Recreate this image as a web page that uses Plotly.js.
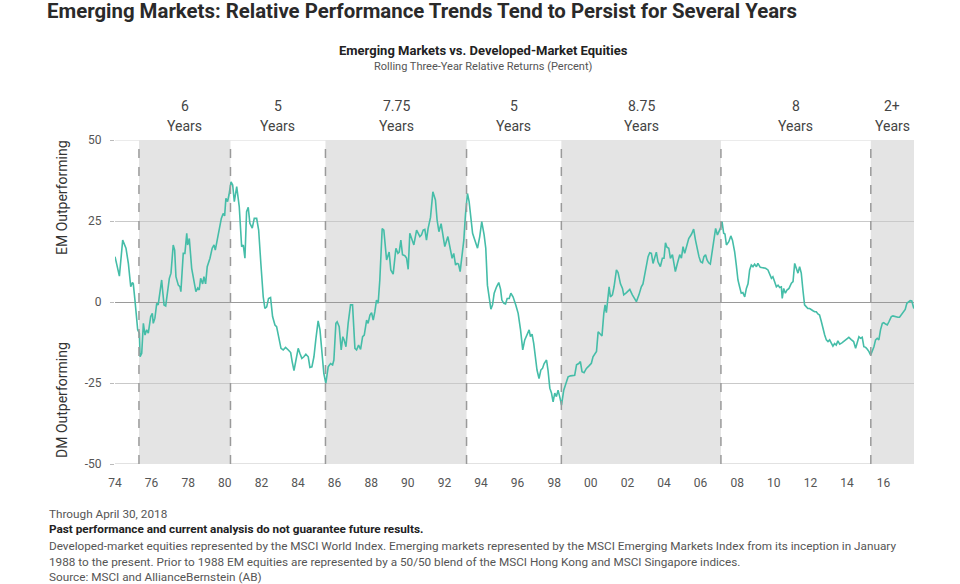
<!DOCTYPE html>
<html>
<head>
<meta charset="utf-8">
<script src="https://cdn.plot.ly/plotly-3.0.1.min.js"></script>
<style>
html,body{margin:0;padding:0;background:#fff;}
#chart{width:960px;height:584px;}
</style>
</head>
<body>
<div id="chart"></div>
<script>
// ---- DATA ----
const years = [
 1974.00,1974.18,1974.24,1974.42,1974.60,1974.73,1974.86,1974.95,1975.00,1975.09,
 1975.24,1975.33,1975.37,1975.46,1975.55,1975.64,1975.73,1975.82,1975.95,1976.04,
 1976.09,1976.18,1976.28,1976.36,1976.46,1976.55,1976.60,1976.68,1976.77,1976.88,
 1976.97,1977.06,1977.18,1977.26,1977.33,1977.46,1977.55,1977.60,1977.73,1977.82,
 1977.92,1977.97,1978.06,1978.19,1978.31,1978.42,1978.52,1978.60,1978.68,1978.79,
 1978.86,1978.95,1979.04,1979.19,1979.31,1979.41,1979.48,1979.59,1979.70,1979.81,
 1979.91,1979.99,1980.06,1980.15,1980.23,1980.34,1980.43,1980.52,1980.65,1980.79,
 1980.92,1981.01,1981.10,1981.19,1981.28,1981.37,1981.50,1981.61,1981.74,1981.85,
 1981.97,1982.10,1982.19,1982.29,1982.39,1982.50,1982.61,1982.74,1982.83,1982.96,
 1983.07,1983.19,1983.32,1983.47,1983.60,1983.68,1983.78,1983.89,1984.01,1984.10,
 1984.21,1984.32,1984.43,1984.56,1984.65,1984.76,1984.87,1984.98,1985.10,1985.20,
 1985.32,1985.41,1985.52,1985.65,1985.78,1985.89,1985.96,1986.07,1986.14,1986.25,
 1986.36,1986.45,1986.52,1986.62,1986.74,1986.87,1986.98,1987.11,1987.20,1987.31,
 1987.42,1987.53,1987.62,1987.75,1987.83,1987.93,1988.02,1988.11,1988.20,1988.29,
 1988.38,1988.47,1988.60,1988.69,1988.84,1988.98,1989.07,1989.20,1989.35,1989.46,
 1989.53,1989.62,1989.71,1989.84,1989.93,1990.02,1990.11,1990.20,1990.33,1990.48,
 1990.56,1990.66,1990.75,1990.84,1990.93,1991.02,1991.11,1991.24,1991.37,1991.51,
 1991.60,1991.70,1991.82,1991.90,1992.02,1992.19,1992.30,1992.42,1992.51,1992.61,
 1992.69,1992.77,1992.86,1992.97,1993.06,1993.15,1993.26,1993.35,1993.43,1993.54,
 1993.66,1993.81,1993.93,1994.04,1994.17,1994.26,1994.35,1994.44,1994.54,1994.63,
 1994.72,1994.85,1994.97,1995.07,1995.14,1995.25,1995.34,1995.43,1995.54,1995.63,
 1995.75,1995.90,1996.03,1996.16,1996.28,1996.39,1996.49,1996.63,1996.70,1996.79,
 1996.88,1996.99,1997.06,1997.17,1997.27,1997.36,1997.45,1997.58,1997.66,1997.76,
 1997.85,1997.94,1998.03,1998.12,1998.21,1998.30,1998.40,1998.52,1998.63,1998.76,
 1998.89,1999.03,1999.12,1999.22,1999.34,1999.43,1999.52,1999.63,1999.76,1999.90,
 2000.03,2000.12,2000.25,2000.31,2000.40,2000.53,2000.61,2000.71,2000.78,2000.85,
 2000.93,2001.00,2001.07,2001.18,2001.27,2001.40,2001.49,2001.62,2001.73,2001.80,
 2001.95,2002.13,2002.27,2002.40,2002.49,2002.63,2002.76,2002.85,2002.95,2003.04,
 2003.13,2003.22,2003.31,2003.40,2003.49,2003.58,2003.67,2003.80,2003.91,2004.00,
 2004.08,2004.16,2004.26,2004.35,2004.46,2004.53,2004.62,2004.73,2004.86,2004.95,
 2005.04,2005.13,2005.22,2005.35,2005.50,2005.62,2005.72,2005.80,2005.91,2006.00,
 2006.10,2006.18,2006.27,2006.35,2006.44,2006.53,2006.62,2006.71,2006.82,2006.92,
 2007.00,2007.08,2007.17,2007.26,2007.33,2007.41,2007.54,2007.65,2007.74,2007.86,
 2007.95,2008.04,2008.13,2008.22,2008.31,2008.41,2008.50,2008.59,2008.68,2008.77,
 2008.86,2008.95,2009.05,2009.13,2009.26,2009.41,2009.55,2009.68,2009.77,2009.87,
 2009.95,2010.05,2010.14,2010.23,2010.32,2010.41,2010.46,2010.54,2010.63,2010.72,
 2010.83,2010.96,2011.05,2011.14,2011.23,2011.32,2011.41,2011.50,2011.59,2011.68,
 2011.78,2011.86,2011.96,2012.05,2012.14,2012.23,2012.32,2012.41,2012.50,2012.60,
 2012.68,2012.78,2012.87,2012.96,2013.05,2013.14,2013.23,2013.32,2013.41,2013.50,
 2013.60,2013.72,2013.87,2013.99,2014.10,2014.23,2014.36,2014.47,2014.56,2014.65,
 2014.74,2014.83,2014.92,2015.02,2015.11,2015.20,2015.29,2015.38,2015.47,2015.56,
 2015.65,2015.74,2015.83,2015.93,2016.01,2016.11,2016.20,2016.29,2016.42,2016.51,
 2016.60,2016.69,2016.78,2016.87,2016.96,2017.05,2017.18,2017.27,2017.36,2017.45,
 2017.54,2017.59,2017.65
];
const relativeReturns = [
 14.0,8.9,8.0,19.1,16.6,11.9,4.7,6.0,5.6,0.6,
 -8.6,-9.6,-16.9,-15.8,-6.6,-10.2,-8.6,-9.6,-4.5,-3.5,
 -6.6,-5.0,-0.4,-0.9,2.7,6.8,3.7,-0.9,-1.2,4.7,
 7.3,8.9,17.6,16.0,7.8,5.2,4.7,3.2,15.0,15.0,
 21.2,17.6,19.6,10.4,6.8,3.2,4.3,3.7,7.3,5.6,
 7.8,5.6,10.9,13.5,16.6,17.6,16.0,19.1,22.2,25.8,
 27.3,26.6,32.0,31.0,33.1,37.1,36.1,31.0,35.6,29.4,
 17.1,17.6,13.5,27.9,29.2,24.3,22.8,25.8,25.8,22.2,
 11.9,1.6,-2.0,-1.5,1.1,1.4,-4.5,-7.1,-7.6,-11.2,
 -14.3,-14.8,-14.0,-14.8,-15.6,-18.4,-21.2,-17.9,-14.3,-15.8,
 -17.4,-16.9,-16.1,-16.9,-20.2,-20.0,-16.9,-11.2,-5.8,-8.6,
 -16.9,-22.0,-25.1,-20.0,-19.0,-19.4,-17.9,-6.6,-6.1,-7.6,
 -14.8,-10.7,-11.7,-13.8,-6.6,-0.9,-0.9,-14.3,-14.8,-13.3,
 -14.6,-10.7,-10.2,-5.6,-6.6,-4.0,-3.3,-5.6,-3.0,0.6,
 -0.4,6.8,22.7,22.2,13.0,15.4,9.9,8.6,16.6,15.0,
 15.4,19.1,14.6,14.3,13.6,10.1,21.2,19.6,17.6,22.2,
 21.2,20.2,20.7,22.2,22.4,19.1,22.7,26.1,34.0,31.5,
 25.3,21.7,24.2,20.7,17.1,20.2,17.1,13.5,15.0,11.4,
 11.9,11.7,9.4,15.0,19.1,26.9,33.5,31.0,26.9,21.2,
 19.1,16.6,20.2,24.8,20.7,16.6,5.2,1.1,-2.2,-0.9,
 2.7,4.7,6.0,3.9,0.6,-0.4,-0.6,1.1,1.1,2.7,
 1.6,-0.9,-3.5,-8.6,-14.8,-11.7,-10.2,-8.6,-10.7,-9.9,
 -12.8,-17.9,-21.0,-23.6,-21.0,-20.5,-19.0,-17.9,-21.0,-26.6,
 -28.1,-30.8,-28.1,-29.2,-27.2,-29.2,-31.8,-27.2,-25.1,-23.1,
 -22.8,-22.8,-22.6,-19.4,-19.0,-18.4,-21.5,-21.8,-20.5,-19.7,
 -18.9,-16.9,-15.8,-15.3,-9.2,-10.2,-10.5,-3.5,-0.9,-3.3,
 1.6,4.7,1.6,2.2,4.7,9.9,9.1,5.6,4.2,2.2,
 2.9,3.9,2.2,0.8,0.1,2.2,4.7,5.6,8.3,10.9,
 14.0,15.2,15.0,11.9,13.5,15.4,12.4,10.9,13.5,13.5,
 18.3,16.9,16.6,13.5,14.6,12.4,9.4,11.9,14.6,13.5,
 17.1,15.0,17.1,19.6,20.9,22.5,19.1,16.6,14.0,12.4,
 12.1,14.0,14.6,13.0,12.1,11.7,15.0,18.1,22.7,20.7,
 21.7,22.7,24.8,21.2,21.0,17.6,18.6,20.4,19.1,15.5,
 11.4,6.8,4.7,2.7,2.9,1.6,4.2,5.6,9.9,11.4,
 10.9,11.7,10.9,11.9,10.7,10.6,10.4,9.9,8.9,7.3,
 7.8,5.8,4.7,5.2,4.5,4.7,1.1,4.2,2.7,3.7,
 4.2,5.8,6.3,11.9,10.4,8.9,10.9,8.9,3.7,-0.9,
 -1.5,-2.0,-2.0,-2.5,-2.7,-3.0,-3.0,-3.7,-4.0,-6.1,
 -8.1,-10.2,-11.7,-12.2,-11.7,-12.8,-13.6,-12.8,-13.3,-12.0,
 -13.0,-12.6,-12.0,-11.6,-10.9,-11.6,-12.2,-14.3,-12.8,-10.7,
 -11.2,-10.9,-13.8,-14.0,-14.6,-15.3,-16.4,-15.3,-13.8,-11.7,
 -11.2,-11.7,-8.6,-6.6,-6.4,-6.8,-7.1,-6.1,-4.5,-4.3,
 -4.5,-4.5,-4.7,-4.7,-4.0,-3.0,-2.3,-0.4,0.1,0.4,
 0.3,-0.9,-2.0
];
// regime boundaries (decimal years) and the length label of each regime
const regimeStarts = [1975.31, 1980.31, 1985.50, 1993.21, 1998.39, 2007.11, 2015.30];
const regimeEnd = 2017.66;
const regimeLengths = ["6", "5", "7.75", "5", "8.75", "8", "2+"];
const xTickVals = [1974,1976,1978,1980,1982,1984,1986,1988,1990,1992,1994,1996,1998,2000,2002,2004,2006,2008,2010,2012,2014,2016];
const xTickText = ["74","76","78","80","82","84","86","88","90","92","94","96","98","00","02","04","06","08","10","12","14","16"];
const yTickVals = [-50,-25,0,25,50];
const yTickText = ["-50","-25","0","25","50"];

// ---- STYLE ----
const FONT = "Roboto, 'Liberation Sans', sans-serif";
const LINE_COLOR = "#45bda8";
const SHADE = "#e4e4e4";

const shapes = [];
const annotations = [];
const bounds = regimeStarts.concat([regimeEnd]);
for (let i = 0; i < regimeStarts.length; i++) {
  if (i % 2 === 0) {
    shapes.push({type:"rect", xref:"x", yref:"y", x0:bounds[i], x1:bounds[i+1], y0:-50, y1:50,
      fillcolor:SHADE, line:{width:0}, layer:"below"});
  }
}
// edge lines at +50 / -50 (plotly hides gridlines on the range edges)
shapes.push({type:"line", xref:"paper", yref:"y", x0:0, x1:1, y0:50, y1:50, line:{color:"#d8d8d8", width:1}, layer:"below"});
shapes.push({type:"line", xref:"paper", yref:"y", x0:0, x1:1, y0:-50, y1:-50, line:{color:"#c4c4c4", width:1}, layer:"below"});
regimeStarts.forEach(function(b){
  shapes.push({type:"line", xref:"x", yref:"y", x0:b, x1:b, y0:-50, y1:50,
    line:{color:"#9a9a9a", width:1.5, dash:"dash"}, layer:"above"});
});
// period labels
const plotTop = 140, plotBottom = 464, plotH = plotBottom - plotTop;
function py(pixelY){ return (plotBottom - pixelY) / plotH; }
const plotLeft = 115, plotW = 799;
function px(pixelX){ return (pixelX - plotLeft) / plotW; }

for (let i = 0; i < regimeLengths.length; i++) {
  const mid = (bounds[i] + bounds[i+1]) / 2;
  annotations.push({xref:"x", yref:"paper", x:mid, y:py(106), text:regimeLengths[i], showarrow:false,
    font:{family:FONT, size:14, color:"#444"}, xanchor:"center", yanchor:"middle"});
  annotations.push({xref:"x", yref:"paper", x:mid, y:py(126), text:"Years", showarrow:false,
    font:{family:FONT, size:14, color:"#444"}, xanchor:"center", yanchor:"middle"});
}
// subtitle
annotations.push({xref:"paper", yref:"paper", x:px(483), y:py(50), text:"<b>Emerging Markets vs. Developed-Market Equities</b>",
  showarrow:false, font:{family:FONT, size:13, color:"#222"}, xanchor:"center", yanchor:"middle"});
annotations.push({xref:"paper", yref:"paper", x:px(483), y:py(66), text:"Rolling Three-Year Relative Returns (Percent)",
  showarrow:false, font:{family:FONT, size:11, color:"#555"}, xanchor:"center", yanchor:"middle"});
// axis side titles
annotations.push({xref:"paper", yref:"paper", x:px(62), y:py(197), text:"EM Outperforming", textangle:-90,
  showarrow:false, font:{family:FONT, size:14, color:"#333"}, xanchor:"center", yanchor:"middle"});
annotations.push({xref:"paper", yref:"paper", x:px(62), y:py(400), text:"DM Outperforming", textangle:-90,
  showarrow:false, font:{family:FONT, size:14, color:"#333"}, xanchor:"center", yanchor:"middle"});
// footer
const footer = [
  {t:"Through April 30, 2018", y:514, c:"#555"},
  {t:"<b>Past performance and current analysis do not guarantee future results.</b>", y:529, c:"#222"},
  {t:"Developed-market equities represented by the MSCI World Index. Emerging markets represented by the MSCI Emerging Markets Index from its inception in January", y:546, c:"#555"},
  {t:"1988 to the present. Prior to 1988 EM equities are represented by a 50/50 blend of the MSCI Hong Kong and MSCI Singapore indices.", y:562, c:"#555"},
  {t:"Source: MSCI and AllianceBernstein (AB)", y:577, c:"#555"}
];
footer.forEach(function(f){
  annotations.push({xref:"paper", yref:"paper", x:px(47), y:py(f.y), text:f.t, showarrow:false,
    font:{family:FONT, size:11.75, color:f.c}, xanchor:"left", yanchor:"middle", align:"left"});
});

const trace = {
  x: years, y: relativeReturns, type:"scatter", mode:"lines",
  line:{color:LINE_COLOR, width:1.6}, hoverinfo:"skip"
};

const layout = {
  width:960, height:584,
  margin:{l:plotLeft, r:960-plotLeft-plotW, t:plotTop, b:584-plotBottom},
  paper_bgcolor:"#ffffff", plot_bgcolor:"rgba(0,0,0,0)",
  showlegend:false,
  font:{family:FONT, color:"#555"},
  title:{text:"<b>Emerging Markets: Relative Performance Trends Tend to Persist for Several Years</b>",
    x:47/960, xanchor:"left", xref:"container", y:1-11/584, yanchor:"middle", yref:"container",
    font:{family:FONT, size:20.4, color:"#2a2a2a"}},
  xaxis:{range:[1974, regimeEnd], tickvals:xTickVals, ticktext:xTickText, showgrid:false, zeroline:false,
    showline:false, ticks:"", ticklabelstandoff:10, tickfont:{family:FONT, size:12, color:"#555"}, fixedrange:true},
  yaxis:{range:[-50,50], tickvals:yTickVals, ticktext:yTickText, showgrid:true, gridcolor:"#c9c9c9", gridwidth:1,
    zeroline:true, zerolinecolor:"#9a9a9a", zerolinewidth:1, showline:false, ticks:"outside", ticklen:4,
    tickcolor:"#bbb", ticklabelstandoff:6, tickfont:{family:FONT, size:12, color:"#555"}, fixedrange:true},
  shapes:shapes, annotations:annotations
};

Plotly.newPlot("chart", [trace], layout, {displayModeBar:false, staticPlot:true});
</script>
</body>
</html>
